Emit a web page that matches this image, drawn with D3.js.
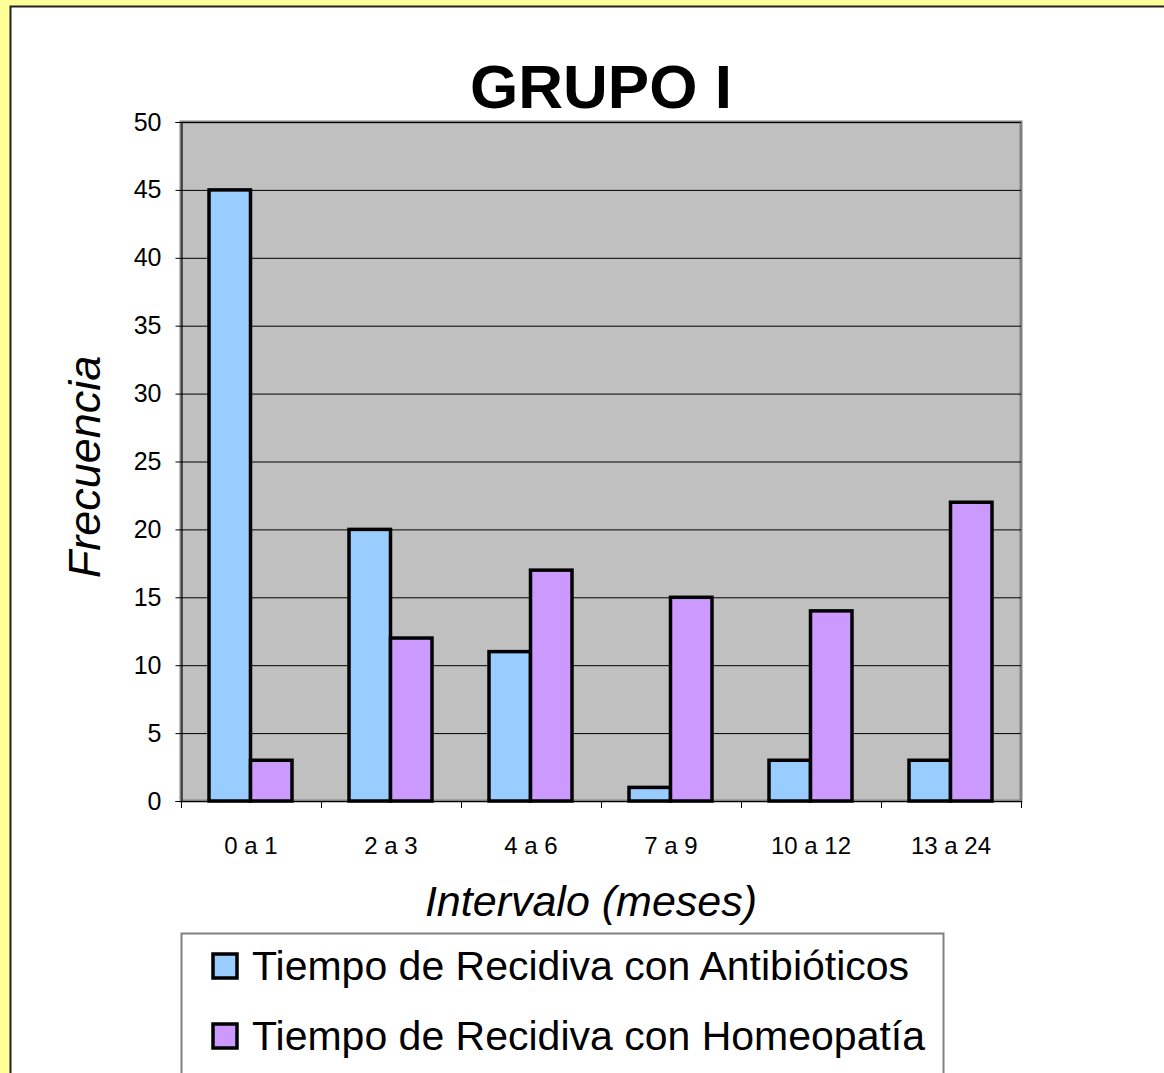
<!DOCTYPE html>
<html>
<head>
<meta charset="utf-8">
<script src="https://cdnjs.cloudflare.com/ajax/libs/d3/7.8.5/d3.min.js"></script>
<style>
  body { margin: 0; background: #FFFF99; }
  text { font-family: "Liberation Sans", Arial, sans-serif; }
</style>
</head>
<body>
<div class="canva"></div>
<script>
const categories = ["0 a 1", "2 a 3", "4 a 6", "7 a 9", "10 a 12", "13 a 24"];
const seriesNames = ["Tiempo de Recidiva con Antibióticos", "Tiempo de Recidiva con Homeopatía"];
const antibioticos = [45, 20, 11, 1, 3, 3];
const homeopatia = [3, 12, 17, 15, 14, 22];
const yTicks = [0, 5, 10, 15, 20, 25, 30, 35, 40, 45, 50];
const colors = ["#99CCFF", "#CC99FF"];

const svg = d3.select(".canva").append("svg")
    .attr("width", 1164)
    .attr("height", 1073);

// yellow page with the white chart box
svg.append("rect").attr("width", 1164).attr("height", 1073).attr("fill", "#FFFF99");
svg.append("rect")
    .attr("x", 10.5).attr("y", 6.5)
    .attr("width", 1200).attr("height", 1200)
    .attr("fill", "white")
    .attr("stroke", "#222").attr("stroke-width", 2);

const plot = {left: 181, right: 1021, top: 122, bottom: 801};

const x0 = d3.scaleBand()
    .domain(categories)
    .range([plot.left, plot.right]);

const x1 = d3.scaleBand()
    .domain(seriesNames)
    .range([28, 111]);

const y = d3.scaleLinear()
    .domain([0, 50])
    .range([plot.bottom, plot.top]);

// plot area
svg.append("rect")
    .attr("x", plot.left).attr("y", plot.top)
    .attr("width", plot.right - plot.left)
    .attr("height", plot.bottom - plot.top)
    .attr("fill", "#C0C0C0")
    .attr("stroke", "#808080")
    .attr("stroke-width", 3);

// gridlines
svg.append("g")
    .selectAll("line")
    .data(yTicks.filter(d => d > 0))
    .enter()
    .append("line")
    .attr("x1", plot.left).attr("x2", plot.right)
    .attr("y1", d => y(d) + 0.5).attr("y2", d => y(d) + 0.5)
    .attr("stroke", "black")
    .attr("stroke-width", 1);

// bars
const data = categories.map((c, i) => ({
    cat: c,
    values: [
        {name: seriesNames[0], value: antibioticos[i], color: colors[0]},
        {name: seriesNames[1], value: homeopatia[i], color: colors[1]}
    ]
}));

svg.append("g")
    .selectAll("g")
    .data(data)
    .enter()
    .append("g")
    .attr("transform", d => `translate(${x0(d.cat)}, 0)`)
    .selectAll("rect")
    .data(d => d.values)
    .enter()
    .append("rect")
    .attr("x", d => x1(d.name))
    .attr("y", d => y(d.value))
    .attr("width", x1.bandwidth())
    .attr("height", d => y(0) - y(d.value))
    .attr("fill", d => d.color)
    .attr("stroke", "black")
    .attr("stroke-width", 3.5);

// y axis
const yAxis = d3.axisLeft(y)
    .tickValues(yTicks)
    .tickSize(6)
    .tickPadding(14);

svg.append("g")
    .attr("transform", `translate(${plot.left + 0.5}, 0)`)
    .call(yAxis)
    .call(g => g.selectAll("text").style("font-size", "25px").attr("fill", "black"))
    .call(g => g.select(".domain").attr("stroke", "black"));

// x axis labels
const xAxis = d3.axisBottom(x0).tickSize(0).tickPadding(36);
svg.append("g")
    .attr("transform", `translate(0, ${plot.bottom})`)
    .call(xAxis)
    .call(g => g.select(".domain").remove())
    .call(g => g.selectAll("text").style("font-size", "24px").attr("fill", "black"));

// x axis line and boundary ticks
svg.append("line")
    .attr("x1", plot.left).attr("x2", plot.right)
    .attr("y1", plot.bottom + 0.5).attr("y2", plot.bottom + 0.5)
    .attr("stroke", "black");

svg.append("g")
    .selectAll("line")
    .data(categories.map(c => x0(c)).concat([x0.range()[1]]))
    .enter()
    .append("line")
    .attr("x1", d => d + 0.5).attr("x2", d => d + 0.5)
    .attr("y1", plot.bottom).attr("y2", plot.bottom + 7)
    .attr("stroke", "black");

// titles
svg.append("text")
    .attr("x", 601).attr("y", 108)
    .attr("text-anchor", "middle")
    .style("font-size", "62px")
    .style("font-weight", "bold")
    .text("GRUPO I");

svg.append("text")
    .attr("x", 591).attr("y", 916)
    .attr("text-anchor", "middle")
    .style("font-size", "43px")
    .style("font-style", "italic")
    .text("Intervalo (meses)");

svg.append("text")
    .attr("transform", "translate(100, 467) rotate(-90)")
    .attr("text-anchor", "middle")
    .style("font-size", "45px")
    .style("font-style", "italic")
    .text("Frecuencia");

// legend
const legend = svg.append("g");
legend.append("rect")
    .attr("x", 181.5).attr("y", 933.5)
    .attr("width", 762).attr("height", 200)
    .attr("fill", "white")
    .attr("stroke", "#808080")
    .attr("stroke-width", 2);

const items = legend.selectAll(".item")
    .data(seriesNames)
    .enter()
    .append("g")
    .attr("class", "item")
    .attr("transform", (d, i) => `translate(0, ${966 + i * 70})`);

items.append("rect")
    .attr("x", 213).attr("y", -12)
    .attr("width", 24).attr("height", 24)
    .attr("fill", (d, i) => colors[i])
    .attr("stroke", "black")
    .attr("stroke-width", 3.5);

items.append("text")
    .attr("x", 252).attr("y", 14)
    .style("font-size", "41px")
    .text(d => d);
</script>
</body>
</html>
